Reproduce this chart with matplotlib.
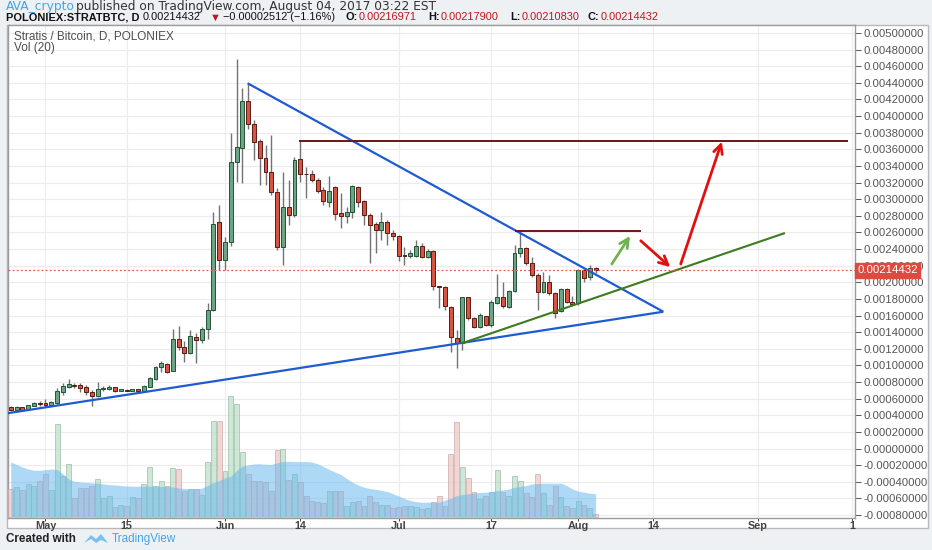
import numpy as np
import pandas as pd
import matplotlib
matplotlib.use("Agg")
from matplotlib import pyplot as plt
from matplotlib.patches import Rectangle, Polygon
from matplotlib.transforms import blended_transform_factory

# ---- data ----
dates = pd.date_range("2017-04-25", "2017-08-04", freq="D")
origin = pd.Timestamp("2017-05-01")

opens = [0.000503, 0.000465, 0.000495, 0.000471, 0.000515, 0.000545, 0.000543, 0.000523, 0.000543, 0.000684,
         0.000744, 0.000768, 0.000764, 0.000736, 0.000676, 0.000636, 0.000722, 0.000716, 0.000736, 0.000696,
         0.000704, 0.000692, 0.000712, 0.000696, 0.000744, 0.000836, 0.000977, 0.001017, 0.000933, 0.001314,
         0.001225, 0.001153, 0.001346, 0.001306, 0.001434, 0.001667, 0.002730, 0.002270, 0.002489, 0.003451,
         0.003612, 0.004185, 0.003905, 0.003704, 0.003491, 0.003331, 0.003082, 0.002428, 0.002910, 0.002810,
         0.003479, 0.003305, 0.003303, 0.003231, 0.003110, 0.002970, 0.003150, 0.002830, 0.002800, 0.002850,
         0.003150, 0.002980, 0.002810, 0.002700, 0.002629, 0.002730, 0.002597, 0.002561, 0.002320, 0.002320,
         0.002320, 0.002440, 0.002308, 0.002381, 0.001955, 0.001939, 0.001707, 0.001326, 0.001266, 0.001819,
         0.001566, 0.001466, 0.001594, 0.001486, 0.001755, 0.001819, 0.001707, 0.001899, 0.002349, 0.002409,
         0.002228, 0.002088, 0.001879, 0.002008, 0.001867, 0.001659, 0.001919, 0.001767, 0.001747, 0.002148,
         0.002068, 0.00216971]
highs = [0.000512, 0.000510, 0.000502, 0.000525, 0.000563, 0.000576, 0.000592, 0.000570, 0.000724, 0.000784,
         0.000832, 0.000792, 0.000784, 0.000764, 0.000704, 0.000796, 0.000752, 0.000764, 0.000744, 0.000722,
         0.000712, 0.000722, 0.000718, 0.000764, 0.000864, 0.000993, 0.001057, 0.001025, 0.001438, 0.001474,
         0.001298, 0.001426, 0.001386, 0.001466, 0.001747, 0.002850, 0.002930, 0.002550, 0.003792, 0.004683,
         0.004334, 0.004394, 0.003950, 0.003720, 0.003652, 0.003772, 0.003130, 0.003331, 0.003230, 0.003511,
         0.003712, 0.003391, 0.003350, 0.003250, 0.003150, 0.003279, 0.003158, 0.003078, 0.002910, 0.003170,
         0.003160, 0.002990, 0.002830, 0.002720, 0.002850, 0.002750, 0.002630, 0.002570, 0.002430, 0.002390,
         0.002510, 0.002470, 0.002400, 0.002389, 0.001960, 0.001950, 0.001715, 0.001426, 0.001827, 0.001827,
         0.001586, 0.001627, 0.001600, 0.001787, 0.002100, 0.002008, 0.001907, 0.002449, 0.002609, 0.002430,
         0.002308, 0.002108, 0.002128, 0.002088, 0.001887, 0.001927, 0.001927, 0.001835, 0.002156, 0.002156,
         0.002208, 0.002179]
lows = [0.000455, 0.000458, 0.000458, 0.000465, 0.000510, 0.000511, 0.000503, 0.000512, 0.000540, 0.000644,
        0.000724, 0.000724, 0.000684, 0.000644, 0.000515, 0.000624, 0.000692, 0.000704, 0.000684, 0.000690,
        0.000688, 0.000688, 0.000690, 0.000684, 0.000740, 0.000824, 0.000925, 0.000905, 0.000928, 0.001185,
        0.001045, 0.001137, 0.001025, 0.001266, 0.001314, 0.001655, 0.002150, 0.002150, 0.002440, 0.003211,
        0.003198, 0.003840, 0.003471, 0.003170, 0.003170, 0.003050, 0.002388, 0.002208, 0.002690, 0.002790,
        0.003211, 0.003010, 0.003210, 0.003070, 0.002930, 0.002910, 0.002750, 0.002650, 0.002710, 0.002770,
        0.002910, 0.002690, 0.002228, 0.002348, 0.002508, 0.002448, 0.002510, 0.002260, 0.002210, 0.002290,
        0.002300, 0.002290, 0.002290, 0.001907, 0.001687, 0.001667, 0.001165, 0.000965, 0.001185, 0.001546,
        0.001446, 0.001446, 0.001480, 0.001466, 0.001739, 0.001687, 0.001687, 0.001887, 0.002308, 0.002208,
        0.002068, 0.001667, 0.001867, 0.001847, 0.001566, 0.001647, 0.001747, 0.001727, 0.001727, 0.002008,
        0.002028, 0.0021083]
closes = [0.000463, 0.000503, 0.000463, 0.000519, 0.000551, 0.000540, 0.000523, 0.000563, 0.000692, 0.000752,
          0.000772, 0.000752, 0.000732, 0.000676, 0.000636, 0.000716, 0.000726, 0.000736, 0.000696, 0.000716,
          0.000692, 0.000716, 0.000696, 0.000752, 0.000844, 0.000977, 0.001025, 0.000925, 0.001318, 0.001225,
          0.001153, 0.001358, 0.001306, 0.001434, 0.001667, 0.002702, 0.002270, 0.002489, 0.003451, 0.003632,
          0.004185, 0.003905, 0.003692, 0.003491, 0.003331, 0.003082, 0.002428, 0.002910, 0.002810, 0.003471,
          0.003303, 0.003300, 0.003231, 0.003102, 0.002982, 0.003102, 0.002822, 0.002800, 0.002850, 0.003158,
          0.002970, 0.002810, 0.002690, 0.002629, 0.002730, 0.002589, 0.002561, 0.002316, 0.002318, 0.002350,
          0.002440, 0.002300, 0.002380, 0.001955, 0.001939, 0.001715, 0.001338, 0.001274, 0.001819, 0.001566,
          0.001466, 0.001606, 0.001486, 0.001767, 0.001819, 0.001715, 0.001899, 0.002349, 0.002409, 0.002228,
          0.002088, 0.001887, 0.002008, 0.001867, 0.001634, 0.001919, 0.001767, 0.001739, 0.002148, 0.002056,
          0.002168, 0.00214432]

volume = [277, 300, 270, 327, 310, 360, 427, 267, 927, 410,
          527, 183, 287, 283, 303, 377, 183, 210, 93, 117,
          103, 200, 183, 327, 500, 310, 360, 310, 490, 477,
          260, 277, 277, 217, 550, 960, 960, 460, 1210, 1127,
          650, 427, 353, 353, 343, 260, 670, 677, 370, 427,
          343, 203, 160, 143, 137, 260, 257, 257, 110, 150,
          160, 110, 203, 150, 117, 117, 83, 93, 103, 103,
          93, 77, 83, 150, 210, 103, 627, 950, 500, 390,
          243, 177, 203, 243, 470, 250, 210, 403, 360, 237,
          200, 427, 233, 117, 310, 193, 110, 83, 160, 120,
          83, 27]
vol_ma = [545, 520, 495, 475, 462, 462, 468, 475, 470, 427,
          375, 352, 345, 340, 337, 333, 325, 318, 315, 310,
          305, 303, 303, 303, 303, 302, 301, 300, 295, 285,
          280, 277, 278, 283, 310, 340, 360, 385, 403, 460,
          505, 515, 525, 527, 522, 520, 537, 550, 552, 550,
          548, 550, 545, 527, 500, 470, 445, 420, 380, 343,
          315, 293, 280, 272, 262, 250, 228, 205, 180, 160,
          148, 143, 143, 143, 143, 165, 183, 210, 220, 227,
          235, 240, 243, 250, 260, 265, 275, 293, 300, 310,
          325, 330, 333, 333, 333, 333, 310, 275, 255, 243,
          233, 227]

last_price = 0.00214432

# drawings (day offset from May 1, price)
lower_blue = [(-6.6, 0.000424), (106.7, 0.001646)]
upper_blue = [(34.9, 0.004395), (106.7, 0.001646)]
green_line = [(71.9, 0.001266), (127.7, 0.002593)]
resist_high = [(43.8, 0.003706), (138.6, 0.003706)]
resist_low = [(81.1, 0.002617), (102.8, 0.002617)]
green_arrow = [(97.8, 0.00222), (100.95, 0.002557)]
red_arrow_1 = [(102.8, 0.0025), (107.9, 0.002183)]
red_arrow_2 = [(109.7, 0.00222), (116.8, 0.003692)]

tick_days = [0, 14, 31, 44, 61, 77, 92, 105, 123, 139.3]
tick_names = ["May", "15", "Jun", "14", "Jul", "17", "Aug", "14", "Sep", "1"]

# ---- figure ----
W, H = 932, 550
plt.rcParams["font.family"] = ["Liberation Sans", "DejaVu Sans"]
fig = plt.figure(figsize=(W / 100, H / 100), dpi=100, facecolor="#eef1f4")


def fx(px):
    return px / W


def fy(py):
    return 1 - py / H


fig.patches.append(Rectangle((fx(7), fy(528)), fx(921), (528 - 25) / H,
                             transform=fig.transFigure, facecolor="white",
                             edgecolor="#b8b8b8", lw=1, zorder=-10))

rect = [fx(7.5), fy(518), (855 - 7.5) / W, (518 - 25) / H]
ax = fig.add_axes(rect, zorder=1)
ax.set_facecolor("white")
axv = fig.add_axes(rect, zorder=2)
axv.patch.set_alpha(0)
axv.axis("off")

x = np.array((dates - origin).days, dtype=float)
o = np.array(opens)
h = np.array(highs)
l = np.array(lows)
c = np.array(closes)
up = c >= o

# volume
vcol = np.where(up, "#bfe0c8", "#efc9c2")
vedge = np.where(up, "#8fb8a6", "#c9a4a8")
axv.bar(x, volume, width=0.85, color=vcol, edgecolor=vedge, lw=0.6, alpha=0.75, zorder=1)
axv.fill_between(x, 0, vol_ma, color="#6ab8f0", alpha=0.55, lw=0, zorder=2)
axv.set_ylim(-15, 4915)

xl = (-6.56, 139.8)
axv.set_xlim(*xl)

# candles
ax.vlines(x, l, h, color="#737375", lw=1, zorder=3)
body = np.maximum(np.abs(c - o), 0.000009)
ax.bar(x, body, bottom=np.minimum(o, c), width=0.68,
       color=np.where(up, "#6ba583", "#d75442"),
       edgecolor=np.where(up, "#225437", "#5b1a13"), lw=0.7, zorder=4)

# trend lines and levels
for seg, col, lw in [(lower_blue, "#1f5bd0", 1.6), (upper_blue, "#1f5bd0", 1.6),
                     (green_line, "#3d7c1e", 1.5), (resist_high, "#6e1616", 1.4),
                     (resist_low, "#6e1616", 1.4)]:
    ax.plot([p[0] for p in seg], [p[1] for p in seg], color=col, lw=lw,
            solid_capstyle="butt", zorder=5)

for seg, col in [(green_arrow, "#6fb34e"), (red_arrow_1, "#e01010"), (red_arrow_2, "#e01010")]:
    ax.annotate("", xy=seg[1], xytext=seg[0],
                arrowprops=dict(arrowstyle="->", color=col, lw=2.0,
                                mutation_scale=16, shrinkA=0, shrinkB=0), zorder=6)

ax.axhline(last_price, color="#e8594a", lw=0.9, ls=(0, (1.5, 1.8)), zorder=5)

# axes
ax.set_xlim(*xl)
ax.set_ylim(-0.000836, 0.005096)
yt = np.round(np.arange(-0.0008, 0.00501, 0.0002), 5)
ax.set_yticks(yt)
ax.set_yticklabels(["%.8f" % (v + 0.0) if abs(v) > 1e-9 else "0.00000000" for v in yt])
ax.yaxis.tick_right()
ax.set_xticks(tick_days)
ax.set_xticklabels(tick_names)
ax.tick_params(axis="y", labelsize=8.2, colors="#555555", length=4, width=0.7, pad=2)
ax.tick_params(axis="x", labelsize=7.8, colors="#444444", length=2, width=0.7, pad=0.5)
for t in ax.get_xticklabels():
    t.set_fontweight("bold")
ax.grid(True, color="#ececec", lw=0.8, zorder=0)
ax.set_axisbelow(True)
for s in ax.spines.values():
    s.set_color("#9c9c9c")
    s.set_linewidth(1)

tr = blended_transform_factory(ax.transAxes, ax.transData)
ax.text(1.003, last_price, "%.8f" % last_price, transform=tr, ha="left", va="center",
        fontsize=8.2, color="white", zorder=10,
        bbox=dict(boxstyle="square,pad=0.2", facecolor="#e0493d", edgecolor="#e0493d"))

ax.text(0.008, 0.977, "Stratis / Bitcoin, D, POLONIEX", transform=ax.transAxes,
        fontsize=8.5, color="#4d4d4d", va="center")
ax.text(0.008, 0.954, "Vol (20)", transform=ax.transAxes,
        fontsize=8.5, color="#4d4d4d", va="center")

# header
fig.text(fx(6), fy(6.5), "AVA_crypto", fontsize=8.8, color="#45a4e6", va="center",
         family="DejaVu Sans")
fig.text(fx(76), fy(6.5), "published on TradingView.com, August 04, 2017 03:22 EST",
         fontsize=8.8, color="#333333", va="center", family="DejaVu Sans")
hdr = [(6, "POLONIEX:STRATBTC, D", "#111111"), (143, "0.00214432", "#111111"),
       (210, "\u25bc", "#c0161d"), (223, "\u22120.00002512 (\u22121.16%)", "#111111"),
       (346, "O:", "#111111"), (359, "0.00216971", "#c0161d"),
       (428, "H:", "#111111"), (441, "0.00217900", "#c0161d"),
       (510, "L:", "#111111"), (522, "0.00210830", "#c0161d"),
       (588, "C:", "#111111"), (601, "0.00214432", "#c0161d")]
for px, s, col in hdr:
    fig.text(fx(px), fy(17.5), s, fontsize=7.9, color=col, va="center",
             fontweight="bold" if s.startswith("POLO") or s.endswith(":") else "normal")

# footer
fig.text(fx(6), fy(539), "Created with", fontsize=8.4, fontweight="bold", color="#222222", va="center")
fig.patches.append(Polygon([(fx(84), fy(543)), (fx(91), fy(535)), (fx(96), fy(539)),
                            (fx(101), fy(534)), (fx(108), fy(543)), (fx(101), fy(540)),
                            (fx(96), fy(543)), (fx(91), fy(539))],
                           closed=True, transform=fig.transFigure, facecolor="#79c2ee",
                           edgecolor="none"))
fig.text(fx(112), fy(539), "TradingView", fontsize=8.4, color="#45a4e6", va="center")

fig.savefig("out.png", dpi=100, facecolor=fig.get_facecolor())
